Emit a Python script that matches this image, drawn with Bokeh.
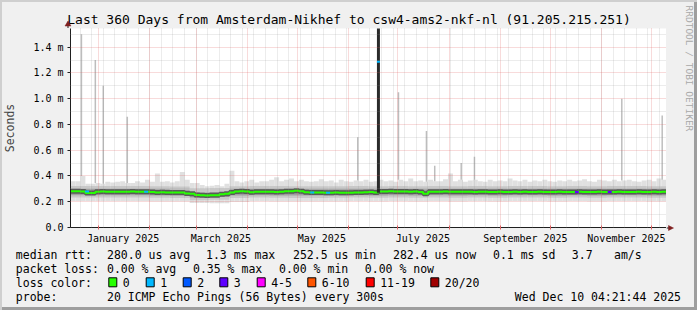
import datetime as dt
import math
from bokeh.plotting import figure
from bokeh.models import Range1d, FixedTicker
from bokeh.layouts import column, row
from bokeh.embed import file_html
from bokeh.resources import INLINE
from bokeh.core.properties import value

# ---------------- data ----------------
TITLE = "Last 360 Days from Amsterdam-Nikhef to csw4-ams2-nkf-nl (91.205.215.251)"
WATERMARK = "RRDTOOL / TOBI OETIKER"
END = dt.datetime(2025, 12, 10, 4, 21, 44)
SPAN_DAYS = 360
START = END - dt.timedelta(days=SPAN_DAYS)

label_months = [(2025, 1), (2025, 3), (2025, 5), (2025, 7), (2025, 9), (2025, 11)]
month_labels = ["January 2025", "March 2025", "May 2025", "July 2025",
                "September 2025", "November 2025"]
y_ticks = [0.0, 0.2, 0.4, 0.6, 0.8, 1.0, 1.2, 1.4]
y_tick_labels = ["0.0", "0.2 m", "0.4 m", "0.6 m", "0.8 m", "1.0 m", "1.2 m", "1.4 m"]
y_minor = [0.1, 0.3, 0.5, 0.7, 0.9, 1.1, 1.3, 1.5]

STEP = 3  # days per median / top sample
median_ms = [
    0.281, 0.281, 0.279, 0.268, 0.268, 0.278, 0.279, 0.278, 0.278, 0.277,
    0.278, 0.278, 0.279, 0.278, 0.277, 0.277, 0.276, 0.272, 0.273, 0.272,
    0.271, 0.272, 0.271, 0.264, 0.262, 0.252, 0.250, 0.249, 0.250, 0.251,
    0.258, 0.262, 0.272, 0.280, 0.281, 0.280, 0.274, 0.277, 0.277, 0.278,
    0.277, 0.276, 0.278, 0.281, 0.281, 0.285, 0.281, 0.273, 0.272, 0.272,
    0.271, 0.270, 0.270, 0.271, 0.270, 0.269, 0.270, 0.272, 0.271, 0.273,
    0.276, 0.271, 0.279, 0.280, 0.281, 0.279, 0.280, 0.279, 0.278, 0.280,
    0.276, 0.262, 0.278, 0.277, 0.278, 0.279, 0.278, 0.278, 0.277, 0.278,
    0.277, 0.276, 0.277, 0.278, 0.276, 0.275, 0.277, 0.276, 0.275, 0.277,
    0.276, 0.277, 0.275, 0.276, 0.277, 0.276, 0.275, 0.276, 0.277, 0.276,
    0.275, 0.276, 0.277, 0.276, 0.275, 0.276, 0.277, 0.276, 0.275, 0.276,
    0.277, 0.276, 0.275, 0.276, 0.277, 0.276, 0.276, 0.277, 0.276, 0.277,
]
smoke_top = [
    0.36, 0.36, 0.40, 0.34, 0.34, 0.345, 0.34, 0.355, 0.35, 0.355,
    0.36, 0.345, 0.345, 0.36, 0.35, 0.37, 0.355, 0.42, 0.355, 0.36,
    0.35, 0.36, 0.43, 0.37, 0.345, 0.345, 0.33, 0.32, 0.325, 0.33,
    0.32, 0.34, 0.44, 0.36, 0.35, 0.36, 0.37, 0.35, 0.36, 0.36,
    0.37, 0.39, 0.36, 0.37, 0.38, 0.36, 0.37, 0.36, 0.355, 0.36,
    0.375, 0.36, 0.365, 0.35, 0.37, 0.36, 0.355, 0.365, 0.36, 0.37,
    0.355, 0.36, 0.37, 0.36, 0.365, 0.355, 0.37, 0.36, 0.38, 0.36,
    0.365, 0.355, 0.37, 0.36, 0.36, 0.375, 0.42, 0.36, 0.37, 0.355,
    0.365, 0.37, 0.36, 0.355, 0.37, 0.36, 0.365, 0.36, 0.38, 0.365,
    0.36, 0.37, 0.355, 0.365, 0.36, 0.37, 0.36, 0.355, 0.365, 0.36,
    0.37, 0.36, 0.365, 0.375, 0.36, 0.355, 0.37, 0.365, 0.36, 0.37,
    0.36, 0.365, 0.37, 0.36, 0.355, 0.365, 0.37, 0.36, 0.38, 0.37,
]
BAND_STEP = 12  # days per inner smoke sample
smoke_lo = [0.206, 0.205, 0.206, 0.205, 0.204, 0.203, 0.190, 0.188, 0.200, 0.205,
            0.204, 0.203, 0.203, 0.204, 0.205, 0.204, 0.205, 0.204, 0.205, 0.204,
            0.205, 0.204, 0.205, 0.205, 0.204, 0.205, 0.204, 0.205, 0.205, 0.204]
smoke_lo3 = [0.232, 0.232, 0.233, 0.232, 0.231, 0.229, 0.212, 0.215, 0.230, 0.232,
             0.231, 0.230, 0.230, 0.231, 0.232, 0.231, 0.232, 0.231, 0.232, 0.231,
             0.232, 0.231, 0.232, 0.232, 0.231, 0.232, 0.231, 0.232, 0.232, 0.231]
smoke_lo4 = [0.250, 0.250, 0.251, 0.250, 0.249, 0.247, 0.232, 0.236, 0.249, 0.250,
             0.249, 0.248, 0.248, 0.249, 0.250, 0.249, 0.250, 0.249, 0.250, 0.249,
             0.250, 0.249, 0.250, 0.250, 0.249, 0.250, 0.249, 0.250, 0.250, 0.249]
smoke_hi3 = [0.298, 0.298, 0.299, 0.298, 0.297, 0.294, 0.272, 0.276, 0.297, 0.299,
             0.298, 0.296, 0.296, 0.297, 0.298, 0.297, 0.298, 0.297, 0.298, 0.297,
             0.298, 0.297, 0.298, 0.298, 0.297, 0.298, 0.297, 0.298, 0.298, 0.297]
smoke_hi2 = [0.322, 0.322, 0.323, 0.322, 0.321, 0.318, 0.300, 0.302, 0.321, 0.323,
             0.322, 0.320, 0.320, 0.321, 0.322, 0.321, 0.322, 0.321, 0.322, 0.321,
             0.322, 0.321, 0.322, 0.322, 0.321, 0.322, 0.321, 0.322, 0.322, 0.321]

spike_days = [6.6, 15.0, 19.8, 34.3, 173.5, 198.1, 215.0, 220.0, 236.0, 244.0, 333.0, 357.4]
spike_ms = [1.50, 1.30, 1.10, 0.86, 0.70, 1.05, 0.75, 0.48, 0.50, 0.55, 1.00, 0.87]

burst_day = [185.1]
burst_len = [1.8]
burst_lo = [0.27]
burst_hi = [2.0]
burst_med = [1.286]
burst_loss = [1]

loss_days = [8.8, 44.5, 144.8, 154.4, 304.7, 324.5]
loss_count = [1, 1, 1, 1, 3, 3]

loss_names = ["0", "1", "2", "3", "4-5", "6-10", "11-19", "20/20"]
loss_colors = ["#26ff00", "#00b8ff", "#0059ff", "#5e00ff", "#ff00ff", "#ff5500", "#ff0000", "#a00000"]

legend_rows = [
    [("median rtt:", 15.3), ("280.0 us avg", 106.5), ("1.3 ms max", 205.5),
     ("252.5 us min", 292.5), ("282.4 us now", 392.5), ("0.1 ms sd", 492.5),
     ("3.7", 571.3), ("am/s", 613.5)],
    [("packet loss:", 15.3), ("0.00 % avg", 106.5), ("0.35 % max", 192.5),
     ("0.00 % min", 278.5), ("0.00 % now", 364.3)],
    [("loss color:", 15.3)],
    [("probe:", 15.3), ("20 ICMP Echo Pings (56 Bytes) every 300s", 106.5)],
]
STAMP = "Wed Dec 10 04:21:44 2025"

# ---------------- layout ----------------
W = 697
FL, FR, FT, FB = 67, 666, 28, 228   # plot frame in page pixels
H_TOP = FT                          # title strip
H_PLOT = 246 - FT                   # plot incl. x labels
H_LEG = 310 - 246                   # legend strip
SIDE_W = W - FR
YMAX = 1.545
MONO = "DejaVu Sans Mono"
AXIS_C = "#1f1f1f"
ARROW_C = "#7f1f1f"


def day_of(t):
    return (t - START).total_seconds() / 86400.0


def strip(width, height):
    f = figure(width=width, height=height, x_range=Range1d(0, width), y_range=Range1d(height, 0),
               output_backend="svg", toolbar_location=None,
               x_axis_location=None, y_axis_location=None, min_border=0)
    f.border_fill_color = None
    f.background_fill_color = None
    f.outline_line_color = None
    f.grid.visible = False
    if "frame_align" in f.properties():
        f.frame_align = False
    return f


month_starts = [day_of(dt.datetime(2025, m, 1)) for m in range(1, 13)]
label_pos = [day_of(dt.datetime(y, m, 1)) + 15.0 for (y, m) in label_months]
weeks = []
t = dt.datetime(2024, 12, 21)
while t < END:
    weeks.append(day_of(t))
    t += dt.timedelta(days=7)

# ---- main plot ----
p = figure(width=FR, height=H_PLOT, x_range=Range1d(0, SPAN_DAYS), y_range=Range1d(0, YMAX),
           output_backend="svg", toolbar_location=None,
           min_border_left=FL, min_border_right=0, min_border_top=0,
           min_border_bottom=H_PLOT - (FB - FT))
if "frame_align" in p.properties():
    p.frame_align = False
p.border_fill_color = None
p.background_fill_color = "white"
p.outline_line_color = None

xs = [i * STEP for i in range(len(median_ms))]
xr = [x + STEP for x in xs]
bi = [i * STEP // BAND_STEP for i in range(len(median_ms))]
p.quad(left=xs, right=xr, bottom=[smoke_lo[b] for b in bi], top=smoke_top,
       fill_color="#e0e0e0", line_color=None)
bx = [k * BAND_STEP for k in range(len(smoke_lo))]
bxr = [x + BAND_STEP for x in bx]
p.quad(left=bx, right=bxr, bottom=smoke_lo3, top=smoke_hi2, fill_color="#c8c8c8", line_color=None)
p.quad(left=bx, right=bxr, bottom=smoke_lo4, top=smoke_hi3, fill_color="#a0a0a0", line_color=None)
p.vbar(x=spike_days, width=0.9, bottom=[smoke_top[int(d // STEP)] for d in spike_days],
       top=spike_ms, fill_color="#bdbdbd", line_color=None)

mx = xs + [SPAN_DAYS]
my = median_ms + [median_ms[-1]]
p.step(mx, my, mode="after", line_color="#5a5a5a", line_width=5)
p.step(mx, my, mode="after", line_color=loss_colors[0], line_width=2)
p.segment(x0=loss_days, x1=[d + 2.4 for d in loss_days],
          y0=[median_ms[int(d // STEP)] for d in loss_days],
          y1=[median_ms[int(d // STEP)] for d in loss_days],
          line_color=[loss_colors[c] for c in loss_count], line_width=2)

p.quad(left=burst_day, right=[a + b for a, b in zip(burst_day, burst_len)],
       bottom=burst_lo, top=burst_hi, fill_color="#2a2a2a", line_color=None)
p.segment(x0=burst_day, x1=[a + b for a, b in zip(burst_day, burst_len)],
          y0=burst_med, y1=burst_med, line_color=[loss_colors[c] for c in burst_loss], line_width=2)

p.xgrid.ticker = FixedTicker(ticks=month_starts, minor_ticks=weeks)
p.ygrid.ticker = FixedTicker(ticks=y_ticks, minor_ticks=y_minor)
for g in (p.xgrid, p.ygrid):
    g.grid_line_color = "#e06060"
    g.grid_line_alpha = 0.45
    g.grid_line_dash = "1 1"
    g.minor_grid_line_color = "#8f8f8f"
    g.minor_grid_line_alpha = 0.35
    g.minor_grid_line_dash = "1 1"
    g.level = "guide"

p.xaxis.ticker = FixedTicker(ticks=label_pos, minor_ticks=month_starts)
p.xaxis.major_label_overrides = {pos: lab for pos, lab in zip(label_pos, month_labels)}
p.xaxis.major_tick_line_color = None
p.xaxis.major_tick_out = 0
p.xaxis.major_tick_in = 0
p.xaxis.minor_tick_line_color = "#e06060"
p.xaxis.minor_tick_in = 2
p.xaxis.minor_tick_out = 2
p.xaxis.major_label_standoff = 3
p.yaxis.ticker = FixedTicker(ticks=y_ticks)
p.yaxis.major_label_overrides = {v: s for v, s in zip(y_ticks, y_tick_labels)}
p.yaxis.major_tick_out = 3
p.yaxis.major_tick_in = 0
p.yaxis.major_tick_line_color = AXIS_C
p.yaxis.minor_tick_line_color = None
p.yaxis.major_label_standoff = 4
p.yaxis.axis_label = "Seconds"
p.yaxis.axis_label_text_font = MONO
p.yaxis.axis_label_text_font_size = "11.5px"
p.yaxis.axis_label_text_font_style = "normal"
p.yaxis.axis_label_standoff = 13
for ax in (p.xaxis, p.yaxis):
    ax.major_label_text_font = MONO
    ax.major_label_text_font_size = "10px"
    ax.major_label_text_color = "black"
    ax.axis_line_color = AXIS_C
    ax.axis_line_width = 1

# ---- title strip (above the plot) ----
top = strip(FR, H_TOP)
top.text(x=[348.5], y=[18.5], text=[TITLE], text_font=value(MONO), text_font_size="13px",
         text_align="center", text_baseline="middle", text_color="black")
top.segment(x0=[FL + 0.5], y0=[22], x1=[FL + 0.5], y1=[H_TOP], line_color=AXIS_C, line_width=1)
top.patch(x=[FL - 2.5, FL + 3.5, FL + 0.5], y=[25.5, 25.5, 20.5],
          fill_color=ARROW_C, line_color=ARROW_C, line_width=0.5)

# ---- side strip (right of the plot) ----
side = strip(SIDE_W, H_TOP + H_PLOT)
side.text(x=[688.5 - FR], y=[5], text=[WATERMARK], angle=-math.pi / 2,
          text_font=value(MONO), text_font_size="9.5px", text_align="left",
          text_baseline="middle", text_color="#a8a8a8")
side.segment(x0=[0], y0=[FB - 0.5], x1=[3], y1=[FB - 0.5], line_color=AXIS_C, line_width=1)
side.patch(x=[2, 2, 7], y=[FB - 3, FB + 2, FB - 0.5],
           fill_color=ARROW_C, line_color=ARROW_C, line_width=0.5)

# ---- legend strip ----
q = strip(W, H_LEG)
row_y = [8.3, 22.3, 36.3, 50.0]
tx, ty, tt = [], [], []
for r, rw in enumerate(legend_rows):
    for txt, x in rw:
        tx.append(x)
        ty.append(row_y[r])
        tt.append(txt)
box_x = [108.3, 145.7, 182.7, 219.3, 256.7, 307.3, 365.7, 430.3]
for name, bxp in zip(loss_names, box_x):
    tx.append(bxp + 14.0)
    ty.append(row_y[2])
    tt.append(name)
q.text(x=tx, y=ty, text=tt, text_font=value(MONO), text_font_size="11.5px",
       text_baseline="middle", text_color="black")
q.text(x=[680.5], y=[row_y[3]], text=[STAMP], text_font=value(MONO), text_font_size="11.5px",
       text_baseline="middle", text_align="right", text_color="black")
q.rect(x=[b + 4 for b in box_x], y=[row_y[2] - 0.5] * len(box_x), width=8, height=9,
       fill_color=loss_colors, line_color="black", line_width=1)

layout = column(row(column(top, p, spacing=0), side, spacing=0), q, spacing=0,
                styles={"background-color": "#f0f0f0",
                        "box-shadow": "inset 2px 2px 0 0 #cfcfcf, inset -3px -3px 0 0 #9e9e9e"})

with open("out.html", "w") as f:
    f.write(file_html(layout, INLINE))
